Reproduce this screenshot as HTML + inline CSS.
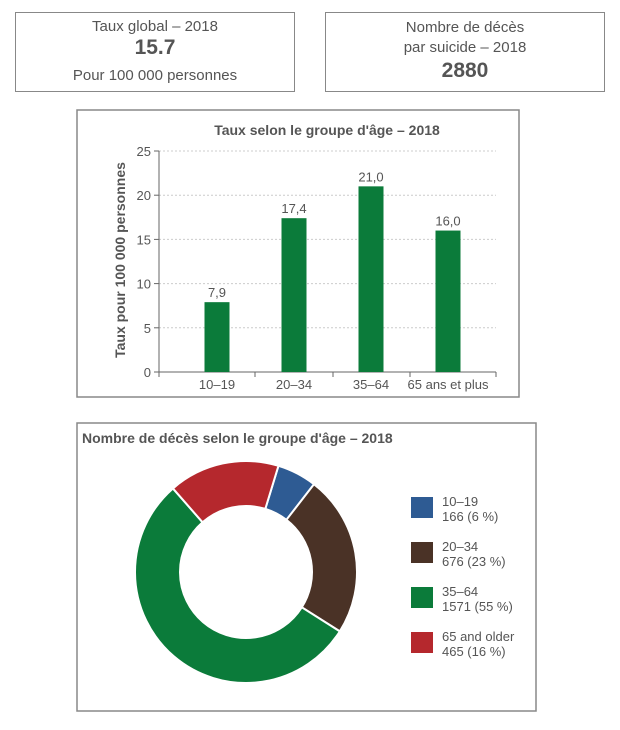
<!DOCTYPE html>
<html><head><meta charset="utf-8"><style>
body{margin:0;background:#fff;font-family:"Liberation Sans",sans-serif;color:#555;}
.box{position:absolute;border:1.5px solid #888;box-sizing:border-box;text-align:center;}
.t{position:absolute;left:0;right:0;font-size:15px;}
</style></head><body>
<div style="position:relative;width:620px;height:730px;overflow:hidden">
<div class="box" style="left:15px;top:12px;width:280px;height:80px">
 <div class="t" style="top:5px">Taux global – 2018</div>
 <div class="t" style="top:23px;font-size:21px;font-weight:bold">15.7</div>
 <div class="t" style="top:54px">Pour 100 000 personnes</div>
</div>
<div class="box" style="left:325px;top:12px;width:280px;height:80px">
 <div class="t" style="top:5px;line-height:20px">Nombre de décès<br>par suicide – 2018</div>
 <div class="t" style="top:46px;font-size:21px;font-weight:bold">2880</div>
</div>
<svg width="620" height="730" style="position:absolute;left:0;top:0" font-family="Liberation Sans, sans-serif">
<rect x="77" y="110" width="442" height="287" fill="none" stroke="#888" stroke-width="1.5"/>
<text x="327" y="135" text-anchor="middle" font-size="14" font-weight="bold" fill="#555">Taux selon le groupe d'âge – 2018</text>
<text transform="translate(125,260) rotate(-90)" text-anchor="middle" font-size="14" font-weight="bold" fill="#555">Taux pour 100 000 personnes</text>
<g id="bars"></g>
<rect x="77" y="423" width="459" height="288" fill="none" stroke="#888" stroke-width="1.5"/>
<text x="82" y="443" font-size="14" font-weight="bold" fill="#555">Nombre de décès selon le groupe d'âge – 2018</text>
<g id="donut"></g>
<g id="legend"></g>
</svg>
</div>
<script>
const categories=["10–19","20–34","35–64","65 ans et plus"];
const rates=[7.9,17.4,21.0,16.0];
const rateLabels=["7,9","17,4","21,0","16,0"];
const yTicks=[0,5,10,15,20,25];
const slices=["10–19","20–34","35–64","65 and older"];
const deaths=[166,676,1571,465];
const sliceLabels=["166 (6 %)","676 (23 %)","1571 (55 %)","465 (16 %)"];
const colors=["#2e5b93","#4a3226","#0b7b3a","#b5282d"];
const NS="http://www.w3.org/2000/svg";
function mk(p,t,a){const e=document.createElementNS(NS,t);for(const k in a)e.setAttribute(k,a[k]);p.appendChild(e);return e;}
const g=document.getElementById('bars');
const y=v=>372-v*8.84;
const x=i=>217+77*i;
yTicks.forEach(v=>{
 if(v>0){const l=mk(g,'line',{x1:159,x2:496,y1:y(v),y2:y(v),stroke:'#ccc','stroke-dasharray':'2,2'});
 
 }
 const tk=mk(g,'line',{x1:154,x2:159,y1:y(v),y2:y(v),stroke:'#666'});
 
 
 const t=mk(g,'text',{x:151,y:y(v)+5,'text-anchor':'end','font-size':13,fill:'#555'});t.textContent=v;
 
 
});
const ax=mk(g,'line',{x1:159,x2:159,y1:y(25),y2:372,stroke:'#666'});


const xa=mk(g,'line',{x1:159,x2:496,y1:372,y2:372,stroke:'#666'});


[159,255,333,410,496].forEach(px=>{const t=mk(g,'line',{x1:px,x2:px,y1:372,y2:377,stroke:'#666'});
 
 });
rates.forEach((v,i)=>{
 const r=mk(g,'rect',{x:x(i)-12.5,y:y(v),width:25,height:372-y(v),fill:'#0b7b3a'});
 
 
 const t=mk(g,'text',{x:x(i),y:y(v)-5,'text-anchor':'middle','font-size':13,fill:'#555'});t.textContent=rateLabels[i];
 
 
 const c=mk(g,'text',{x:x(i),y:389,'text-anchor':'middle','font-size':13,fill:'#555'});c.textContent=categories[i];
 
 
});
const d=document.getElementById('donut');
const cx=246,cy=572,R=111,r0=66;
const tot=deaths.reduce((a,b)=>a+b,0);
let a0=17*Math.PI/180;
const pt=(a,rr)=>[cx+rr*Math.sin(a),cy-rr*Math.cos(a)];
deaths.forEach((v,i)=>{
 const a1=a0+v/tot*2*Math.PI;const lg=(a1-a0)>Math.PI?1:0;
 const [x1,y1]=pt(a0,R),[x2,y2]=pt(a1,R),[x3,y3]=pt(a1,r0),[x4,y4]=pt(a0,r0);
 const p=mk(d,'path',{d:`M${x1},${y1}A${R},${R} 0 ${lg} 1 ${x2},${y2}L${x3},${y3}A${r0},${r0} 0 ${lg} 0 ${x4},${y4}Z`,fill:colors[i],stroke:'#fff','stroke-width':2});
 
 
 a0=a1;
});
const lgd=document.getElementById('legend');
slices.forEach((s,i)=>{
 const yy=497+45*i;
 const r=mk(lgd,'rect',{x:411,y:yy,width:22,height:21,fill:colors[i]});
 
 
 const t1=mk(lgd,'text',{x:442,y:yy+9,'font-size':13,fill:'#555'});t1.textContent=s;
 
 
 const t2=mk(lgd,'text',{x:442,y:yy+24,'font-size':13,fill:'#555'});t2.textContent=sliceLabels[i];
 
 
});
</script>
</body></html>
